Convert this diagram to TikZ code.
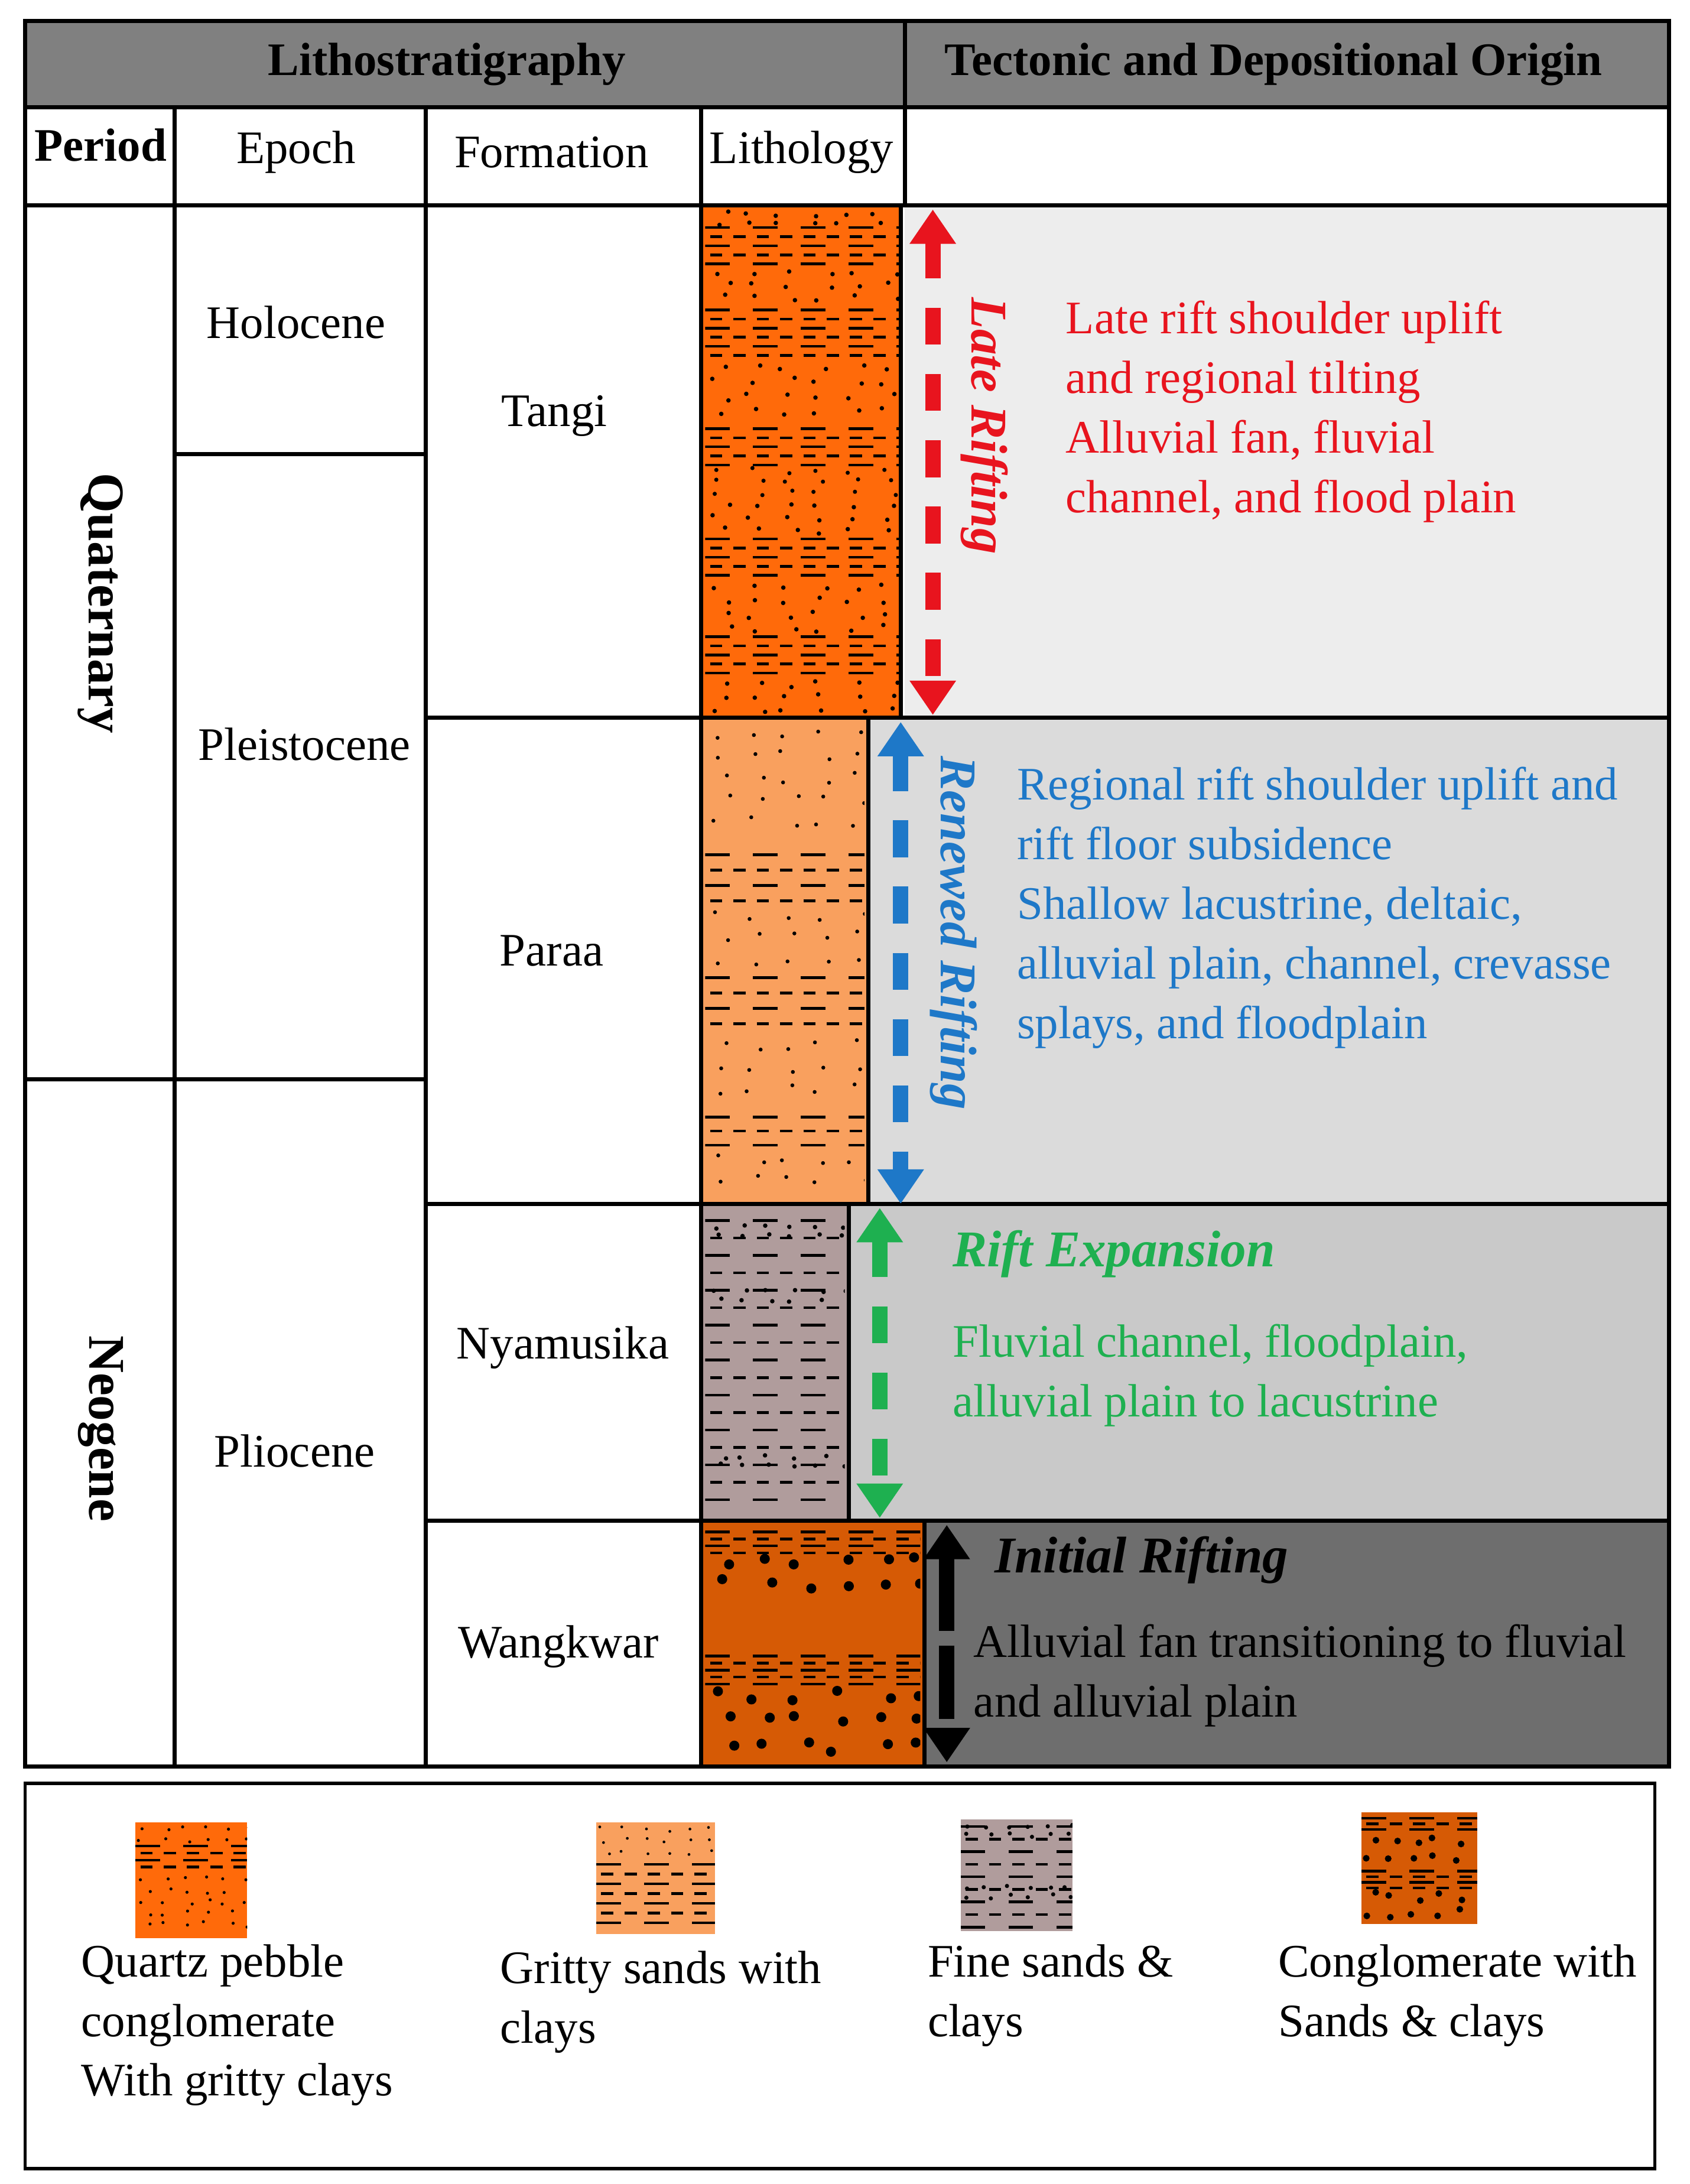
\documentclass[tikz,border=0pt]{standalone}
\usepackage{fontspec}
\setmainfont{Liberation Serif}
\usetikzlibrary{arrows.meta}
\definecolor{orA}{HTML}{FF6A0A}
\definecolor{orB}{HTML}{F9A05E}
\definecolor{mau}{HTML}{B09C9C}
\definecolor{orC}{HTML}{D65A05}
\definecolor{rd}{HTML}{E8141E}
\definecolor{bl}{HTML}{1E78C8}
\definecolor{gn}{HTML}{1EB050}
\tikzset{
 grid/.style={line width=1.7pt},
 lab/.style={font=\fontsize{19}{24}\selectfont, inner sep=0pt},
 hd/.style={font=\bfseries\fontsize{19}{24}\selectfont, inner sep=0pt},
 desc/.style={font=\fontsize{19}{24.3}\selectfont, align=left, anchor=north west, inner sep=0pt},
 arr/.style={line width=6.3pt, dash pattern=on 15pt off 12pt, {Triangle[width=18pt,length=14pt]}-{Triangle[width=18pt,length=14pt]}, shorten <=0pt, shorten >=0pt},
}
% dots: x1 x2 y1 y2 dx dy r
\newcommand\lgdots[7]{%
 \pgfmathsetmacro\ya{#3+#6}%
 \foreach \yy in {#3,\ya,...,#4}{%
  \pgfmathsetmacro\xa{#1+#5}%
  \foreach \xx in {#1,\xa,...,#2}{%
   \pgfmathsetmacro\jx{\xx+rnd*#5*0.6}\pgfmathsetmacro\jy{\yy+(rnd-0.5)*#6*0.5}%
   \fill (\jx,\jy) circle[radius=#7];}}}
% dash rows: x1 x2 y1 y2 dy
\newcommand\lgdash[5]{%
 \pgfmathsetmacro\ya{#3+#5}\pgfmathsetmacro\yb{#3+2*#5}%
 \foreach[count=\i] \yy in {#3,\ya,...,#4}{%
  \ifodd\i \draw[line width=1.1pt, dash pattern=on 10pt off 9.5pt] (#1,\yy) -- (#2,\yy);
  \else \draw[line width=1.1pt, dash pattern=on 5pt off 4.5pt, dash phase=-2pt] (#1,\yy) -- (#2,\yy);\fi}}
\begin{document}
\begin{tikzpicture}[x=0.02cm,y=-0.02cm]
\pgfmathsetseed{7}
\fill[white] (0,0) rectangle (1210,1564);
\useasboundingbox (0,0) rectangle (1210,1564);
% header
\fill[gray!100!black!50] (18,15) rectangle (1195,77);
\fill[black!50] (18,15) rectangle (1195,77);
% right panels
\fill[black!7] (648,147) rectangle (1195,514);
\fill[black!14] (622,514) rectangle (1195,862);
\fill[black!21] (608,862) rectangle (1195,1089);
\fill[black!57] (662,1089) rectangle (1195,1265);
% lithology columns
\fill[orA] (502,147) rectangle (645,514);
\fill[orB] (502,514) rectangle (622,862);
\fill[mau] (502,862) rectangle (608,1089);
\fill[orC] (502,1089) rectangle (662,1265);
\begin{scope}
\clip (505,147) rectangle (645,514);
\lgdots{510}{640}{153}{160}{22}{8}{1.6}
\lgdash{505}{645}{163}{190}{6.5}
\lgdots{510}{640}{195}{220}{24}{9}{1.6}
\lgdash{505}{645}{222}{256}{6.5}
\lgdots{510}{640}{262}{300}{24}{11}{1.6}
\lgdash{505}{645}{307}{335}{6.5}
\lgdots{510}{640}{337}{355}{24}{8}{1.5}
\lgdots{510}{640}{362}{380}{24}{9}{1.6}
\lgdash{505}{645}{386}{414}{6.5}
\lgdots{510}{640}{420}{450}{24}{10}{1.6}
\lgdash{505}{645}{456}{484}{6.5}
\lgdots{510}{640}{490}{508}{24}{9}{1.6}
\end{scope}
\begin{scope}
\clip (505,517) rectangle (619,859);
\lgdots{510}{615}{525}{600}{24}{16}{1.4}
\lgdash{505}{620}{612}{645}{11}
\lgdots{510}{615}{655}{690}{24}{16}{1.4}
\lgdash{505}{620}{700}{735}{11}
\lgdots{510}{615}{748}{790}{24}{16}{1.4}
\lgdash{505}{620}{800}{820}{10}
\lgdots{510}{615}{830}{855}{24}{14}{1.4}
\end{scope}
\begin{scope}
\clip (505,865) rectangle (605,1086);
\lgdash{505}{605}{874}{1080}{12.5}
\lgdots{510}{600}{879}{885}{18}{6}{1.6}
\lgdots{510}{600}{925}{930}{18}{6}{1.6}
\lgdots{510}{600}{1043}{1050}{18}{6}{1.6}
\end{scope}
\begin{scope}
\clip (505,1092) rectangle (659,1262);
\lgdash{505}{660}{1097}{1112}{5}
\lgdots{510}{655}{1117}{1140}{28}{18}{3.6}
\lgdash{505}{660}{1186}{1210}{5}
\lgdots{510}{655}{1215}{1255}{28}{18}{3.6}
\end{scope}
% grid lines
\draw[grid] (18,15) rectangle (1195,1265);
\draw[grid] (18,77) -- (1195,77) (18,147) -- (648,147);
\draw[grid] (648,15) -- (648,147);
\draw[grid] (125,77) -- (125,1265) (305,77) -- (305,1265) (502,77) -- (502,1265);
\draw[grid] (18,773) -- (125,773) (125,325) -- (305,325) (125,773) -- (305,773);
\draw[grid] (305,514) -- (1195,514) (305,862) -- (1195,862) (305,1089) -- (1195,1089);
\draw[grid] (648,147) -- (1195,147);
\draw[grid] (645,147) -- (645,514) (622,514) -- (622,862) (608,862) -- (608,1089) (662,1089) -- (662,1265);
% headers
\node[hd] (h1) at (320,46) {Lithostratigraphy};
\node[hd] (h2) at (912,46) {Tectonic and Depositional Origin};
\node[hd] (c1) at (72,104) {Period};
\node[lab] (c2) at (212,109) {Epoch};
\node[lab] (c3) at (395,109) {Formation};
\node[lab] (c4) at (574,109) {Lithology};
\node[hd, rotate=-90, font=\bfseries\fontsize{21}{24}\selectfont] (p1) at (72,432) {Quaternary};
\node[hd, rotate=-90, font=\bfseries\fontsize{21}{24}\selectfont] (p2) at (72,1023) {Neogene};
\node[lab] (e1) at (212,231) {Holocene};
\node[lab] (e2) at (218,533) {Pleistocene};
\node[lab] (e3) at (211,1039) {Pliocene};
\node[lab] (f1) at (397,298) {Tangi};
\node[lab] (f2) at (395,681) {Paraa};
\node[lab] (f3) at (403,965) {Nyamusika};
\node[lab] (f4) at (400,1179) {Wangkwar};
% arrows
\coordinate (ra) at (668,150); \coordinate (rb) at (668,512);
\draw[arr, rd] (ra) -- (rb);
\coordinate (ba) at (645,517); \coordinate (bb) at (645,862);
\draw[arr, bl] (ba) -- (bb);
\coordinate (ga) at (630,865); \coordinate (gb) at (630,1087);
\draw[arr, gn] (ga) -- (gb);
\coordinate (ka) at (678,1092); \coordinate (kb) at (678,1262);
\draw[arr, black, dash pattern=on 30pt off 6pt] (ka) -- (kb);
\node[hd, rotate=-90, rd, font=\bfseries\itshape\fontsize{21}{24}\selectfont] (lr) at (705,305) {Late Rifting};
\node[hd, rotate=-90, bl, font=\bfseries\itshape\fontsize{21}{24}\selectfont] (rr) at (683,668) {Renewed Rifting};
% descriptions
\node[desc, rd] (t1) at (763,215) {Late rift shoulder uplift\\and regional tilting\\Alluvial fan, fluvial\\channel, and flood plain};
\node[desc, bl] (t2) at (728,549) {Regional rift shoulder uplift and\\rift floor subsidence\\Shallow lacustrine, deltaic,\\alluvial plain, channel, crevasse\\splays, and floodplain};
\node[hd, gn, anchor=west, font=\bfseries\itshape\fontsize{21}{24}\selectfont] (t3h) at (682,898) {Rift Expansion};
\node[desc, gn] (t3) at (682,948) {Fluvial channel, floodplain,\\alluvial plain to lacustrine};
\node[hd, anchor=west, font=\bfseries\itshape\fontsize{21}{24}\selectfont] (t4h) at (712,1117) {Initial Rifting};
\node[desc] (t4) at (697,1163) {Alluvial fan transitioning to fluvial\\and alluvial plain};
% legend
\draw[line width=1.3pt] (18,1277) rectangle (1185,1553);
\fill[orA] (97,1305) rectangle (177,1388);
\begin{scope}\clip (97,1305) rectangle (177,1388);
\lgdots{99}{175}{1310}{1318}{15}{8}{1.1}
\lgdash{97}{177}{1322}{1340}{5}
\lgdots{99}{175}{1346}{1385}{15}{8}{1.1}
\end{scope}
\fill[orB] (427,1305) rectangle (512,1385);
\begin{scope}\clip (427,1305) rectangle (512,1385);
\lgdots{429}{510}{1310}{1330}{15}{8}{1}
\lgdash{427}{512}{1335}{1380}{7}
\end{scope}
\fill[mau] (688,1303) rectangle (768,1383);
\begin{scope}\clip (688,1303) rectangle (768,1383);
\lgdash{688}{768}{1308}{1380}{9}
\lgdots{690}{765}{1308}{1312}{14}{6}{1.5}
\lgdots{690}{765}{1352}{1356}{14}{6}{1.5}
\end{scope}
\fill[orC] (975,1298) rectangle (1058,1378);
\begin{scope}\clip (975,1298) rectangle (1058,1378);
\lgdash{975}{1058}{1302}{1312}{4}
\lgdots{977}{1055}{1318}{1330}{16}{12}{2.4}
\lgdash{975}{1058}{1340}{1352}{4}
\lgdots{977}{1055}{1358}{1374}{16}{12}{2.4}
\end{scope}
\node[desc] (l1) at (58,1392) {Quartz pebble\\conglomerate\\With gritty clays};
\node[desc] (l2) at (358,1397) {Gritty sands with\\clays};
\node[desc] (l3) at (664,1392) {Fine sands \&\\clays};
\node[desc] (l4) at (915,1392) {Conglomerate with\\Sands \& clays};
\end{tikzpicture}
\end{document}
